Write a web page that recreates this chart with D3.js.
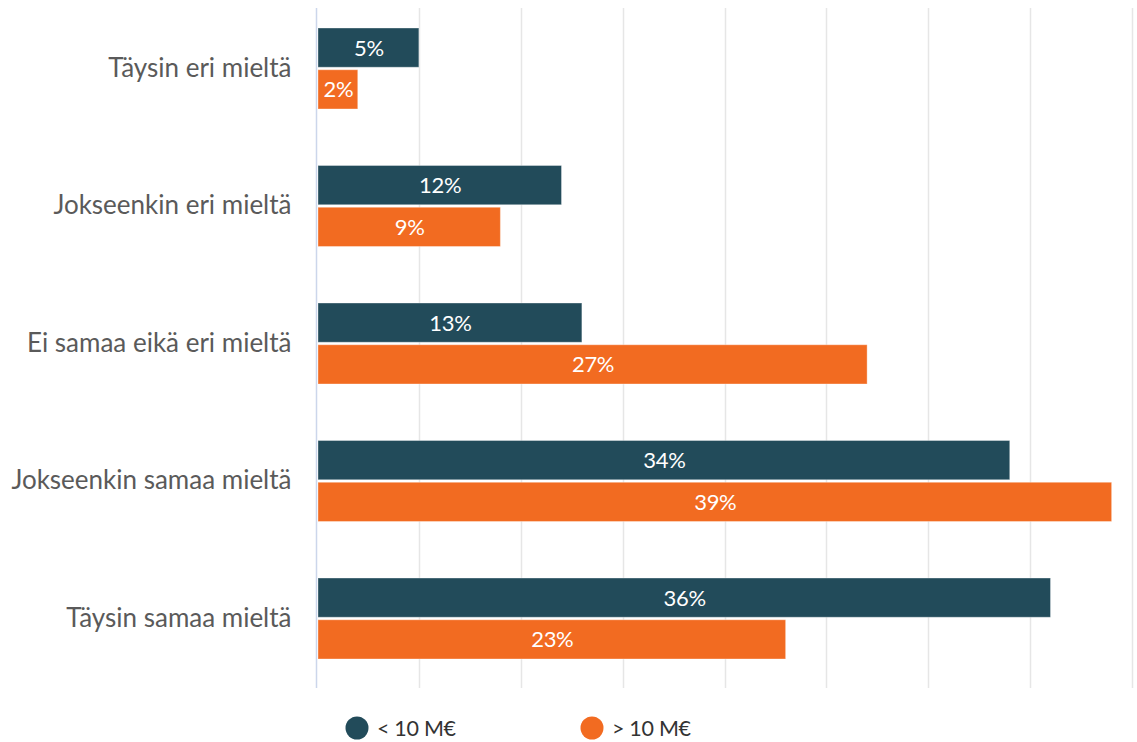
<!DOCTYPE html>
<html>
<head>
<meta charset="utf-8">
<script src="https://cdn.jsdelivr.net/npm/d3@7"></script>
<style>
  html, body { margin: 0; padding: 0; background: #ffffff; }
  svg { display: block; font-family: Lato, "Open Sans", sans-serif; }
</style>
</head>
<body>
<svg id="chart" width="1137" height="742"></svg>
<script>
// Survey answers by company size
const categories = [
  "Täysin eri mieltä",
  "Jokseenkin eri mieltä",
  "Ei samaa eikä eri mieltä",
  "Jokseenkin samaa mieltä",
  "Täysin samaa mieltä"
];
const seriesNames = ["< 10 M€", "> 10 M€"];
const smallCompanies = [5, 12, 13, 34, 36];
const largeCompanies = [2, 9, 27, 39, 23];
const xTicks = [0, 5, 10, 15, 20, 25, 30, 35, 40];
const colors = ["#224b5a", "#f26b21"];

const svg = d3.select("#chart");
const plot = { left: 317, right: 1132, top: 8, bottom: 688 };

const x = d3.scaleLinear().domain([0, 40]).range([plot.left, plot.right]);
const y = d3.scaleBand().domain(categories).range([28, 659]).paddingInner(0.411).paddingOuter(0);
const series = [smallCompanies, largeCompanies];
const inner = d3.scaleBand().domain([0, 1]).range([0, y.bandwidth()]).paddingInner(0.06);

// vertical grid lines
svg.append("g")
  .selectAll("line")
  .data(xTicks.slice(1))
  .join("line")
  .attr("x1", d => Math.round(x(d)) + 0.5)
  .attr("x2", d => Math.round(x(d)) + 0.5)
  .attr("y1", plot.top)
  .attr("y2", plot.bottom)
  .attr("stroke", "#e6e6e6")
  .attr("stroke-width", 1.5);

// category axis
const yAxis = svg.append("g")
  .attr("transform", `translate(${plot.left - 0.5},0)`)
  .call(d3.axisLeft(y).tickSize(0).tickPadding(25));
yAxis.select(".domain").attr("stroke", "#ccd6eb").attr("stroke-width", 1.5)
  .attr("d", `M0,${plot.top}V${plot.bottom}`);
yAxis.selectAll("text")
  .attr("fill", "#5a5a5a")
  .style("font-size", "26px")
  .style("font-family", "Lato, sans-serif");

// bars
const groups = svg.append("g")
  .selectAll("g")
  .data(categories)
  .join("g")
  .attr("transform", d => `translate(0,${y(d)})`);

groups.each(function(cat, ci) {
  const g = d3.select(this);
  series.forEach((vals, si) => {
    const v = vals[ci];
    g.append("rect")
      .attr("x", x(0) + 1)
      .attr("y", inner(si))
      .attr("width", x(v) - x(0) - 1)
      .attr("height", inner.bandwidth())
      .attr("fill", colors[si])
      .attr("stroke", "#ffffff")
      .attr("stroke-opacity", 0.35)
      .attr("stroke-width", 1);
    g.append("text")
      .attr("x", (x(0) + x(v)) / 2 + 1)
      .attr("y", inner(si) + inner.bandwidth() / 2)
      .attr("dy", "0.36em")
      .attr("text-anchor", "middle")
      .attr("fill", "#ffffff")
      .style("font-size", "22px")
      .style("letter-spacing", "-0.3px")
      .text(v + "%");
  });
});

// legend
const legend = svg.append("g").attr("transform", "translate(0,728)");
const legendX = [357, 592];
seriesNames.forEach((name, i) => {
  legend.append("circle")
    .attr("cx", legendX[i])
    .attr("cy", 0)
    .attr("r", 11.5)
    .attr("fill", colors[i]);
  legend.append("text")
    .attr("x", legendX[i] + 20)
    .attr("y", 0)
    .attr("dy", "0.36em")
    .attr("fill", "#333333")
    .style("font-size", "21.5px")
    .style("letter-spacing", "-0.3px")
    .text(name);
});
</script>
</body>
</html>
